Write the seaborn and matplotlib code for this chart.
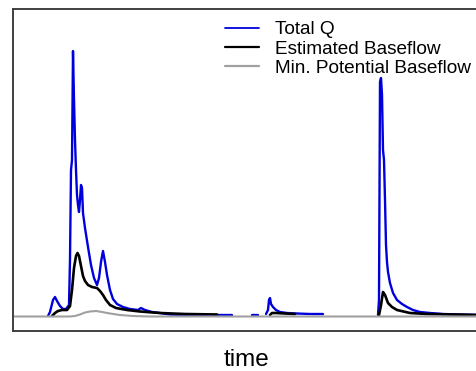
import numpy as np
import pandas as pd
import seaborn as sns
import matplotlib
matplotlib.use("Agg")
import matplotlib.pyplot as plt
from matplotlib.lines import Line2D

# time axis in days, None marks a break in the record
t_total = [48, 50, 53, 55, 57, 60, 63, 66, 69, 70, 71, 72, 73, 74, 75, 76, 77, 78, 79, 80,
           81, 82, 83, 85, 88, 91, 94, 97, 99, 101, 103, 105, 107, 110, 113, 117, 123, 130,
           138, 141, 145, 152, 160, 170, 183, 200, 217, 232, None,
           252, 258, None,
           266, 268, 269, 270, 271, 273, 276, 280, 287, 297, 310, 323, None,
           378, 379, 380, 381, 382, 383, 384, 385, 386, 387, 388, 390, 393, 397, 402, 407,
           413, 420, 430, 443, 460, 480]
q_total = [0.5, 4.5, 16.5, 19.5, 15.5, 10.5, 7.5, 7.5, 11.5, 56.5, 146.5, 156.5, 265.5, 216.5,
           176.5, 146.5, 121.5, 111.5, 104.5, 116.5, 131.5, 128.5, 103.5, 88.5, 69.5, 51.5,
           38.5, 31.5, 38.5, 54.5, 65.5, 54.5, 41.5, 26.5, 17.5, 12.5, 9.5, 7.5, 6.5, 8.5,
           6.5, 4.5, 3.5, 2.0, 1.5, 1.5, 1.5, 1.5, None,
           2.0, 2.0, None,
           2.5, 6.5, 16.5, 18.5, 12.5, 9.5, 6.5, 4.5, 3.5, 3.0, 2.5, 2.5, None,
           1.5, 16.5, 234.5, 238.5, 221.5, 166.5, 156.5, 116.5, 71.5, 54.5, 44.5, 33.5,
           23.5, 16.5, 12.5, 9.5, 6.5, 4.5, 3.5, 2.5, 2.0, 1.5]

t_base = [52, 55, 58, 62, 67, 70, 72, 74, 76, 77.5, 79, 81, 83, 85, 88, 92, 97, 100, 103,
          106, 110, 116, 127, 140, 160, 185, 217, None,
          270, 272, 276, 285, 295, None,
          379, 381, 383, 385, 388, 392, 397, 410, 427, 480]
q_base = [0.5, 3.5, 5.5, 6.5, 6.5, 10.5, 26.5, 48.5, 60.5, 63.5, 60.5, 50.5, 40.5, 35.5,
          31.5, 29.5, 28.5, 25.5, 21.5, 16.5, 11.5, 8.5, 6.5, 5.0, 3.5, 2.5, 2.0, None,
          1.5, 3.5, 3.5, 3.0, 2.5, None,
          1.5, 11.5, 24.5, 21.5, 13.5, 9.5, 6.5, 3.5, 2.5, 1.5]

t_min = [13, 70, 75, 80, 85, 90, 96, 102, 110, 120, 133, 150, 480]
q_min = [0, 0, 0.5, 2, 4, 5, 5.5, 4.5, 3, 1.5, 0.5, 0, 0]

labels = ["Total Q", "Estimated Baseflow", "Min. Potential Baseflow"]


def to_frame(t, q):
    df = pd.DataFrame({"t": t, "q": q}, dtype=float)
    df["seg"] = df["t"].isna().cumsum()
    return df.dropna()


sns.set_style("white")
plt.rcParams["font.family"] = ["Liberation Sans", "DejaVu Sans"]
plt.rcParams["text.color"] = "black"
plt.rcParams["axes.labelcolor"] = "black"

fig = plt.figure(figsize=(4.76, 3.71), dpi=100)
ax = fig.add_axes([13 / 476, 40 / 371, 467 / 476, 322.5 / 371])

sns.lineplot(data=to_frame(t_total, q_total), x="t", y="q", units="seg", estimator=None,
             sort=False, color="#0000DD", lw=1.7, ax=ax)
sns.lineplot(data=to_frame(t_base, q_base), x="t", y="q", units="seg", estimator=None,
             sort=False, color="black", lw=1.9, ax=ax)
sns.lineplot(data=to_frame(t_min, q_min), x="t", y="q", units="seg", estimator=None,
             sort=False, color="#A0A0A0", lw=1.5, ax=ax)

ax.set_xlim(13, 480)
ax.set_ylim(-14.5, 308)
ax.set_xticks([])
ax.set_yticks([])
ax.set_ylabel("")
ax.set_xlabel("time", fontsize=17.5, labelpad=13)
for s in ax.spines.values():
    s.set_color("#404040")
    s.set_linewidth(1.4)
ax.spines["right"].set_visible(False)

handles = [Line2D([], [], color="#0000DD", lw=1.3),
           Line2D([], [], color="black", lw=1.6),
           Line2D([], [], color="#A0A0A0", lw=1.6)]
fig.legend(handles, labels,
           loc="upper left", bbox_to_anchor=(225 / 476, 1 - 21 / 371), frameon=False,
           fontsize=13.7, handlelength=1.8, handletextpad=0.85, labelspacing=0.1,
           borderpad=0, borderaxespad=0)

fig.savefig("out.png", dpi=100)
